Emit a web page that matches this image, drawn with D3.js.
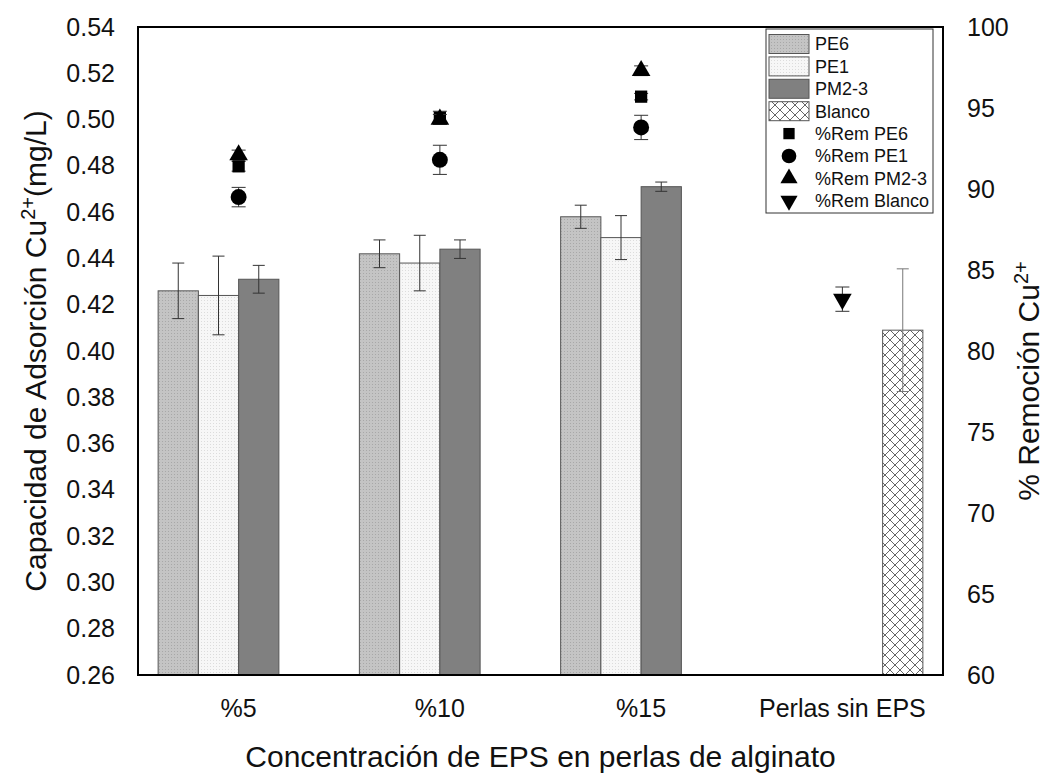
<!DOCTYPE html>
<html>
<head>
<meta charset="utf-8">
<script src="https://cdn.jsdelivr.net/npm/d3@7"></script>
<style>
  body { margin: 0; background: #fff; }
  text { font-family: "Liberation Sans", Arial, sans-serif; fill: #111; }
</style>
</head>
<body>
<svg width="1054" height="776"></svg>
<script>
// categories and series
var categories = ["%5", "%10", "%15", "Perlas sin EPS"];
var series = ["PE6", "PE1", "PM2-3", "Blanco"];

// adsorption capacity (mg/L), one value per category, null = no bar
var capPE6 = [0.426, 0.442, 0.458, null];
var capPE6Err = [0.012, 0.006, 0.005, null];
var capPE1 = [0.424, 0.438, 0.449, null];
var capPE1Err = [0.017, 0.012, 0.0095, null];
var capPM23 = [0.431, 0.444, 0.471, null];
var capPM23Err = [0.006, 0.004, 0.002, null];
var capBlanco = [null, null, null, 0.409];
var capBlancoErr = [null, null, null, 0.0265];

// % removal
var remPE6 = [91.4, 94.4, 95.7, null];
var remPE6Err = [0.3, 0.4, 0.2, null];
var remPE1 = [89.5, 91.8, 93.8, null];
var remPE1Err = [0.6, 0.9, 0.75, null];
var remPM23 = [92.1, 94.3, 97.3, null];
var remPM23Err = [0.3, 0.3, 0.3, null];
var remBlanco = [null, null, null, 83.2];
var remBlancoErr = [null, null, null, 0.75];

// tick labels
var leftTicks = [0.26, 0.28, 0.30, 0.32, 0.34, 0.36, 0.38, 0.40, 0.42, 0.44, 0.46, 0.48, 0.50, 0.52, 0.54];
var rightTicks = [60, 65, 70, 75, 80, 85, 90, 95, 100];

var svg = d3.select("svg");
var pLeft = 138, pRight = 943, pTop = 27, pBottom = 675;

var x = d3.scaleBand().domain(categories).range([pLeft, pRight]).paddingInner(0.2).paddingOuter(0.1);
var xs = d3.scaleBand().domain(series).range([0, x.bandwidth()]);
var y = d3.scaleLinear().domain([0.26, 0.54]).range([pBottom, pTop]);
var y2 = d3.scaleLinear().domain([60, 100]).range([pBottom, pTop]);

// patterns
var defs = svg.append("defs");
var p1 = defs.append("pattern").attr("id", "pe6").attr("patternUnits", "userSpaceOnUse")
  .attr("width", 3).attr("height", 3);
p1.append("rect").attr("width", 3).attr("height", 3).attr("fill", "#c4c4c4");
p1.append("rect").attr("width", 1).attr("height", 1).attr("fill", "#a8a8a8");
var p2 = defs.append("pattern").attr("id", "pe1").attr("patternUnits", "userSpaceOnUse")
  .attr("width", 3).attr("height", 3);
p2.append("rect").attr("width", 3).attr("height", 3).attr("fill", "#f7f7f7");
p2.append("rect").attr("width", 1).attr("height", 1).attr("fill", "#dcdcdc");
var p3 = defs.append("pattern").attr("id", "blanco").attr("patternUnits", "userSpaceOnUse")
  .attr("width", 10).attr("height", 10);
p3.append("rect").attr("width", 10).attr("height", 10).attr("fill", "#fff");
p3.append("path").attr("d", "M0,0L10,10M10,0L0,10").attr("stroke", "#666").attr("stroke-width", 1);

var fills = {"PE6": "url(#pe6)", "PE1": "url(#pe1)", "PM2-3": "#808080", "Blanco": "url(#blanco)"};
var capVals = {"PE6": capPE6, "PE1": capPE1, "PM2-3": capPM23, "Blanco": capBlanco};
var capErrs = {"PE6": capPE6Err, "PE1": capPE1Err, "PM2-3": capPM23Err, "Blanco": capBlancoErr};

var bars = [];
series.forEach(function(s) {
  categories.forEach(function(c, i) {
    if (capVals[s][i] != null) bars.push({cat: c, s: s, v: capVals[s][i], e: capErrs[s][i]});
  });
});

var g = svg.append("g");
g.selectAll(".bar").data(bars).enter().append("rect")
  .attr("class", "bar")
  .attr("x", function(d) { return x(d.cat) + xs(d.s); })
  .attr("y", function(d) { return y(d.v); })
  .attr("width", xs.bandwidth())
  .attr("height", function(d) { return pBottom - y(d.v); })
  .attr("fill", function(d) { return fills[d.s]; })
  .attr("stroke", "#555").attr("stroke-width", 1);

// bar error bars
var eb = g.selectAll(".err").data(bars).enter().append("g").attr("class", "err")
  .attr("stroke", function(d) { return d.s == "Blanco" ? "#777" : "#333"; }).attr("stroke-width", 1);
eb.append("line")
  .attr("x1", function(d) { return x(d.cat) + xs(d.s) + xs.bandwidth() / 2; })
  .attr("x2", function(d) { return x(d.cat) + xs(d.s) + xs.bandwidth() / 2; })
  .attr("y1", function(d) { return y(d.v + d.e); })
  .attr("y2", function(d) { return y(d.v - d.e); });
[1, -1].forEach(function(k) {
  eb.append("line")
    .attr("x1", function(d) { return x(d.cat) + xs(d.s) + xs.bandwidth() / 2 - 6; })
    .attr("x2", function(d) { return x(d.cat) + xs(d.s) + xs.bandwidth() / 2 + 6; })
    .attr("y1", function(d) { return y(d.v + k * d.e); })
    .attr("y2", function(d) { return y(d.v + k * d.e); });
});

// removal points
var remSeries = [
  {name: "%Rem PE6", vals: remPE6, errs: remPE6Err, sym: d3.symbolSquare, size: 150, rot: 0},
  {name: "%Rem PE1", vals: remPE1, errs: remPE1Err, sym: d3.symbolCircle, size: 200, rot: 0},
  {name: "%Rem PM2-3", vals: remPM23, errs: remPM23Err, sym: d3.symbolTriangle, size: 150, rot: 0},
  {name: "%Rem Blanco", vals: remBlanco, errs: remBlancoErr, sym: d3.symbolTriangle, size: 150, rot: 180}
];
var pts = [];
remSeries.forEach(function(r) {
  categories.forEach(function(c, i) {
    if (r.vals[i] != null) pts.push({cat: c, v: r.vals[i], e: r.errs[i], r: r});
  });
});
var pg = svg.append("g").selectAll("g").data(pts).enter().append("g")
  .attr("transform", function(d) { return "translate(" + (x(d.cat) + x.bandwidth() / 2) + ",0)"; });
pg.append("line").attr("stroke", "#333")
  .attr("y1", function(d) { return y2(d.v + d.e); })
  .attr("y2", function(d) { return y2(d.v - d.e); });
[1, -1].forEach(function(k) {
  pg.append("line").attr("stroke", "#333").attr("x1", -7).attr("x2", 7)
    .attr("y1", function(d) { return y2(d.v + k * d.e); })
    .attr("y2", function(d) { return y2(d.v + k * d.e); });
});
pg.append("path")
  .attr("d", function(d) { return d3.symbol().type(d.r.sym).size(d.r.size)(); })
  .attr("transform", function(d) { return "translate(0," + y2(d.v) + ") rotate(" + d.r.rot + ")"; })
  .attr("fill", "#000");

// frame
svg.append("rect").attr("x", pLeft).attr("y", pTop).attr("width", pRight - pLeft).attr("height", pBottom - pTop)
  .attr("fill", "none").attr("stroke", "#000").attr("stroke-width", 2);

// axes
var ax1 = svg.append("g").attr("transform", "translate(" + pLeft + ",0)")
  .call(d3.axisLeft(y).tickValues(leftTicks).tickFormat(d3.format(".2f")).tickSize(0).tickPadding(23));
var ax2 = svg.append("g").attr("transform", "translate(" + pRight + ",0)")
  .call(d3.axisRight(y2).tickValues(rightTicks).tickSize(0).tickPadding(24));
var ax3 = svg.append("g").attr("transform", "translate(0," + pBottom + ")")
  .call(d3.axisBottom(x).tickSize(0).tickPadding(24));
[ax1, ax2, ax3].forEach(function(a) {
  a.select(".domain").remove();
  a.selectAll("text").attr("font-size", "25px").attr("font-family", "Liberation Sans, Arial, sans-serif").attr("fill", "#111");
});

// axis titles
svg.append("text").attr("x", (pLeft + pRight) / 2).attr("y", 767).attr("text-anchor", "middle")
  .attr("font-size", "30px").text("Concentración de EPS en perlas de alginato");

var t1 = svg.append("text").attr("transform", "translate(46," + (pTop + pBottom) / 2 + ") rotate(-90)")
  .attr("text-anchor", "middle").attr("font-size", "30px");
t1.append("tspan").text("Capacidad de Adsorción Cu");
t1.append("tspan").attr("baseline-shift", "super").attr("font-size", "20px").text("2+");
t1.append("tspan").text("(mg/L)");

var t2 = svg.append("text").attr("transform", "translate(1039," + ((pTop + pBottom) / 2 + 30) + ") rotate(-90)")
  .attr("text-anchor", "middle").attr("font-size", "30px");
t2.append("tspan").text("% Remoción Cu");
t2.append("tspan").attr("baseline-shift", "super").attr("font-size", "20px").text("2+");

// legend
var lg = svg.append("g");
lg.append("rect").attr("x", 766).attr("y", 29).attr("width", 167).attr("height", 184)
  .attr("fill", "#fff").attr("stroke", "#333").attr("stroke-width", 1);
var rowH = 22.4, row0 = 44;
series.forEach(function(s, i) {
  var cy = row0 + i * rowH;
  lg.append("rect").attr("x", 769).attr("y", cy - 9.5).attr("width", 40).attr("height", 19)
    .attr("fill", fills[s]).attr("stroke", "#555");
  lg.append("text").attr("x", 815).attr("y", cy).attr("dy", "0.36em").attr("font-size", "18px").text(s);
});
remSeries.forEach(function(r, i) {
  var cy = row0 + (i + 4) * rowH;
  lg.append("path").attr("d", d3.symbol().type(r.sym).size(r.size * 0.85)())
    .attr("transform", "translate(789," + cy + ") rotate(" + r.rot + ")").attr("fill", "#000");
  lg.append("text").attr("x", 815).attr("y", cy).attr("dy", "0.36em").attr("font-size", "18px").text(r.name);
});
</script>
</body>
</html>
